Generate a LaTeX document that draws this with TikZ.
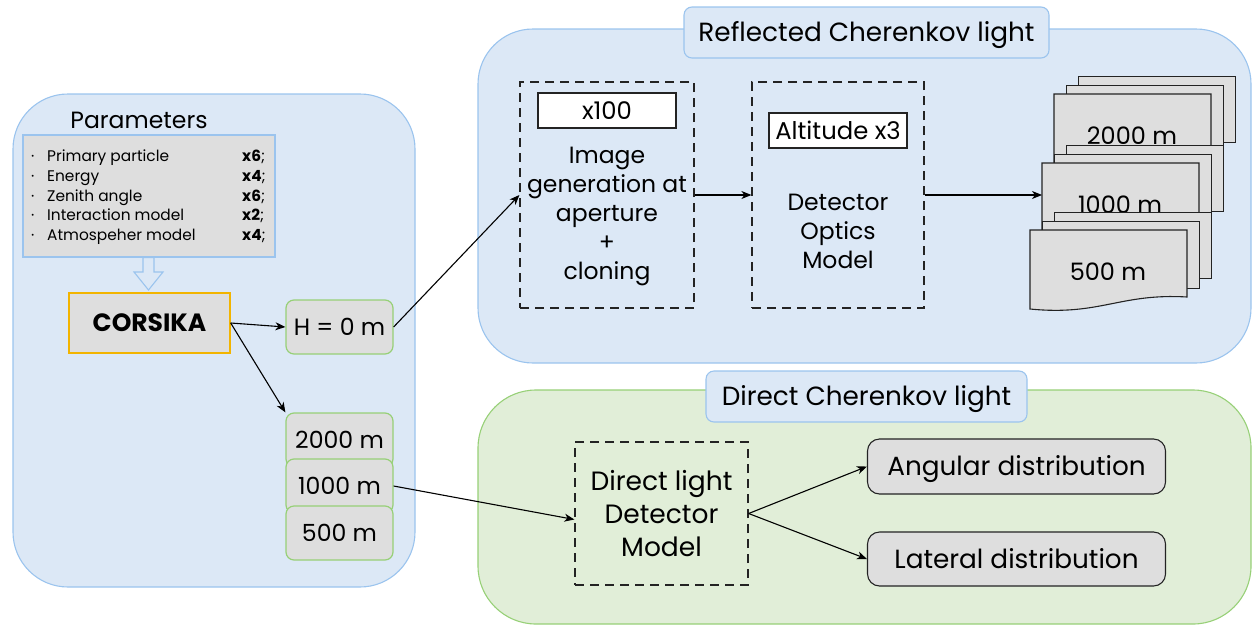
\documentclass[tikz,border=0pt]{standalone}
\usepackage{fontspec}
\setmainfont{Poppins}
\usetikzlibrary{arrows.meta,calc}
\definecolor{bluefill}{RGB}{220,232,246}
\definecolor{blueline}{RGB}{155,196,238}
\definecolor{greenfill}{RGB}{225,238,216}
\definecolor{greenline}{RGB}{151,208,119}
\definecolor{grayfill}{RGB}{222,222,222}
\definecolor{orangeline}{RGB}{242,180,0}
\definecolor{darkline}{RGB}{35,35,35}
\newcommand{\DocGroup}[4]{%
  \node[docrect, minimum width=157pt, minimum height=66pt, anchor=north west] (#1b) at (#2+24,#3-18) {};
  \node[docrect, minimum width=157pt, minimum height=67pt, anchor=north west] (#1m) at (#2+12,#3-9) {};
  \draw[docrect] (#2,#3) -- (#2+157,#3) -- (#2+157,#3+67) .. controls (#2+90,#3+63) and (#2+70,#3+86) .. (#2,#3+79) -- cycle;
  \node[lbl, cen=24, font=\fontsize{24}{28}\selectfont] (#1t) at (#2+78,#3+42) {#4};
}
\begin{document}
\begin{tikzpicture}[x=1pt,y=-1pt,
  lbl/.style={inner sep=0pt},
  cen/.style={text height={#1*0.85pt}, text depth={#1*0.15pt}},
  bluepanel/.style={draw=blueline, fill=bluefill, line width=1.1pt, rounded corners=55pt},
  greenpanel/.style={draw=greenline, fill=greenfill, line width=1.1pt, rounded corners=58pt},
  tabbox/.style={draw=blueline, fill=bluefill, line width=1.1pt, rounded corners=8pt, inner sep=0pt, cen=26.3, font=\fontsize{26.3}{30}\selectfont},
  dbox/.style={draw=darkline, line width=1.2pt, dash pattern=on 9pt off 6pt, inner sep=0pt},
  whitebox/.style={draw=darkline, fill=white, line width=1.1pt, inner sep=0pt, cen=24.3, font=\fontsize{24.3}{28}\selectfont},
  altbox/.style={draw=greenline, fill=grayfill, line width=1.2pt, rounded corners=8pt, inner sep=0pt, cen=23.6, font=\fontsize{23.6}{28}\selectfont},
  resbox/.style={draw=darkline, fill=grayfill, line width=1.1pt, rounded corners=12pt, inner sep=0pt, cen=26.3, font=\fontsize{26.3}{30}\selectfont},
  docrect/.style={draw=darkline, fill=grayfill, line width=1.1pt, inner sep=0pt},
  arr/.style={-{Stealth[length=10pt,width=8pt,inset=3pt]}, line width=1.1pt, black},
  plist/.style={font=\fontsize{15.4}{18}\selectfont, inner sep=0pt, anchor=west, cen=15.4},
]
\useasboundingbox (0,0) rectangle (1252,624);

% ---------- left panel ----------
\node[bluepanel, minimum width=402pt, minimum height=493pt, inner sep=0pt] (left) at (214,340.5) {};
\node[lbl, cen=23.5, font=\fontsize{23.5}{28}\selectfont] (partitle) at (139,120) {Parameters};
\node[draw=blueline, fill=grayfill, line width=1.1pt, minimum width=252pt, minimum height=122pt, inner sep=0pt] (params) at (149,196) {};
\foreach \yy/\tx/\mul [count=\i] in {156/Primary particle/x6, 176/Energy/x4, 196/Zenith angle/x6, 215/Interaction model/x2, 235/Atmospeher model/x4}{
  \node[plist] (pb\i) at (31,\yy) {·};
  \node[plist] (pt\i) at (47,\yy) {\tx};
  \node[plist] (pm\i) at (242,\yy) {\textbf{\mul};};
}
\draw[draw=blueline, fill=bluefill, line width=1.1pt] (143,257.5) -- (154,257.5) -- (154,272) -- (163,272) -- (148.5,290) -- (134,272) -- (143,272) -- cycle;
\node[draw=orangeline, fill=grayfill, line width=1.4pt, minimum width=161pt, minimum height=60pt, inner sep=0pt, cen=25, font=\fontsize{25}{30}\selectfont\bfseries] (corsika) at (149.5,323) {CORSIKA};
\node[altbox, minimum width=107pt, minimum height=54pt] (h0) at (339.5,327) {H = 0 m};
\node[altbox, minimum width=107pt, minimum height=54pt] (a2000) at (339.5,440) {2000 m};
\node[altbox, minimum width=107pt, minimum height=54pt] (a1000) at (339.5,486) {1000 m};
\node[altbox, minimum width=107pt, minimum height=54pt] (a500) at (339.5,533) {500 m};

% ---------- top panel ----------
\node[bluepanel, minimum width=773pt, minimum height=334pt, inner sep=0pt] (top) at (864.5,196) {};
\node[tabbox, minimum width=365pt, minimum height=51pt] (toptab) at (866.5,32.5) {Reflected Cherenkov light};
\node[dbox, minimum width=174pt, minimum height=226pt] (img) at (607,195) {};
\node[whitebox, minimum width=138pt, minimum height=35pt] (x100) at (607,110.5) {x100};
\node[lbl, align=center, font=\fontsize{23.5}{29}\selectfont] (imgtxt) at (607,216) {Image\\generation at\\aperture\\+\\cloning};
\node[dbox, minimum width=172pt, minimum height=226pt] (opt) at (838,195) {};
\node[whitebox, minimum width=138pt, minimum height=35pt] (alt) at (838,130.5) {Altitude x3};
\node[lbl, align=center, font=\fontsize{23.5}{29}\selectfont] (opttxt) at (838,231.5) {Detector\\Optics\\Model};
\DocGroup{d2000}{1054}{94}{2000 m}
\DocGroup{d1000}{1042}{163}{1000 m}
\DocGroup{d500}{1030}{230}{500 m}
\coordinate (d1000in) at (1042,195);

% ---------- bottom panel ----------
\node[greenpanel, minimum width=773pt, minimum height=234pt, inner sep=0pt] (bottom) at (864.5,507) {};
\node[tabbox, minimum width=321pt, minimum height=51pt] (bottab) at (866.5,396.5) {Direct Cherenkov light};
\node[dbox, minimum width=173pt, minimum height=143pt] (direct) at (661.5,513.5) {};
\node[lbl, align=center, font=\fontsize{26.5}{33}\selectfont] (dirtxt) at (661.5,514) {Direct light\\Detector\\Model};
\node[resbox, minimum width=298pt, minimum height=55pt] (ang) at (1016.5,466.5) {Angular distribution};
\node[resbox, minimum width=298pt, minimum height=54pt] (lat) at (1016.5,559) {Lateral distribution};

% ---------- connectors ----------
\draw[arr] (corsika.east) -- (h0.west);
\draw[arr] (corsika.east) -- (a2000.north west);
\draw[arr] (h0.east) -- (img.west);
\draw[arr] (img.east) -- (opt.west);
\draw[arr] (opt.east) -- (d1000in);
\draw[arr] (a1000.east) -- ($(direct.west)+(0,6)$);
\draw[arr] (direct.east) -- (ang.west);
\draw[arr] (direct.east) -- (lat.west);
\end{tikzpicture}
\end{document}
